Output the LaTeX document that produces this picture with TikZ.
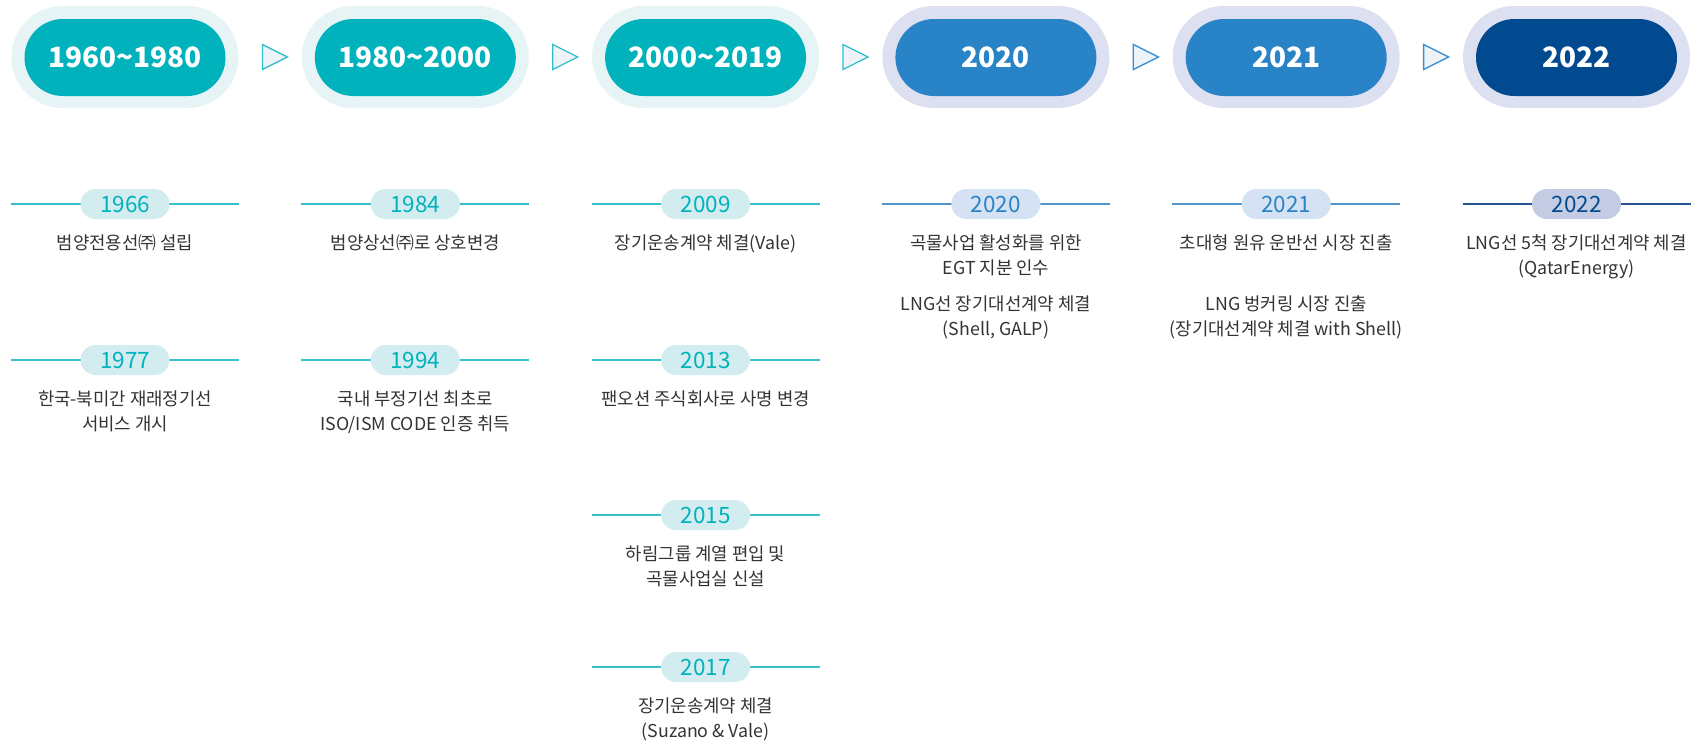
\documentclass[tikz,border=0pt]{standalone}
\usepackage{fontspec}
\setmainfont{Noto Sans CJK KR}
\usetikzlibrary{shapes.geometric,calc}
\definecolor{tealA}{RGB}{0,178,188}
\definecolor{tealHalo}{RGB}{230,244,246}
\definecolor{blueA}{RGB}{41,131,199}
\definecolor{blueHalo}{RGB}{221,224,240}
\definecolor{navyA}{RGB}{1,74,143}
\definecolor{tealLine}{RGB}{56,193,202}
\definecolor{tealPill}{RGB}{210,236,239}
\definecolor{blueLine}{RGB}{80,150,205}
\definecolor{bluePill}{RGB}{212,226,243}
\definecolor{navyLine}{RGB}{36,84,148}
\definecolor{navyPill}{RGB}{196,204,227}
\definecolor{descGray}{RGB}{51,51,51}
\definecolor{triFill}{RGB}{238,243,249}
\definecolor{triTeal}{RGB}{44,192,204}
\definecolor{triBlue}{RGB}{59,142,209}
\newcommand\evyr[5]{%
  \draw[#5line] (#2-114,#3) -- (#2+114,#3);
  \node[ypill,#5pill] (#1) at (#2,#3) {#4};}
\begin{document}
\begin{tikzpicture}[x=1pt,y=-1pt,
  halo/.style={minimum width=227pt, minimum height=102pt, rounded corners=51pt, inner sep=0pt},
  core/.style={minimum width=201pt, minimum height=77pt, rounded corners=38.5pt, inner sep=0pt,
    text=white, font=\fontsize{28}{30}\selectfont\bfseries},
  tri/.style={isosceles triangle, isosceles triangle stretches, minimum width=25pt, minimum height=25pt,
    inner sep=0pt, fill=triFill, line width=1.3pt},
  ypill/.style={minimum width=89pt, minimum height=30pt, rounded corners=15pt, inner sep=0pt,
    font=\fontsize{22.5}{24}\selectfont},
  tealline/.style={draw=tealLine, line width=1.5pt},
  blueline/.style={draw=blueLine, line width=1.5pt},
  navyline/.style={draw=navyLine, line width=1.5pt},
  tealpill/.style={fill=tealPill, text=tealA},
  bluepill/.style={fill=bluePill, text=blueA},
  navypill/.style={fill=navyPill, text=navyA},
  desc/.style={anchor=base, inner sep=0pt, text=descGray, font=\fontsize{17.8}{20}\selectfont}
]
\useasboundingbox (0,0) rectangle (1701,744);
% top pills
\node[halo, fill=tealHalo] (h1) at (125,57) {};
\node[core, fill=tealA] (p1) at (125,57.5) {1960\textasciitilde1980};
\node[halo, fill=tealHalo] (h2) at (415.3,57) {};
\node[core, fill=tealA] (p2) at (415.3,57.5) {1980\textasciitilde2000};
\node[halo, fill=tealHalo] (h3) at (705.6,57) {};
\node[core, fill=tealA] (p3) at (705.6,57.5) {2000\textasciitilde2019};
\node[halo, fill=blueHalo] (h4) at (995.9,57) {};
\node[core, fill=blueA] (p4) at (995.9,57.5) {2020};
\node[halo, fill=blueHalo] (h5) at (1286.2,57) {};
\node[core, fill=blueA] (p5) at (1286.2,57.5) {2021};
\node[halo, fill=blueHalo] (h6) at (1576.5,57) {};
\node[core, fill=navyA] (p6) at (1576.5,57.5) {2022};
% arrows
\node[tri, draw=triTeal] (a1) at ($(h1.east)!0.5!(h2.west)$) {};
\node[tri, draw=triTeal] (a2) at ($(h2.east)!0.5!(h3.west)$) {};
\node[tri, draw=triTeal] (a3) at ($(h3.east)!0.5!(h4.west)$) {};
\node[tri, draw=triBlue] (a4) at ($(h4.east)!0.5!(h5.west)$) {};
\node[tri, draw=triBlue] (a5) at ($(h5.east)!0.5!(h6.west)$) {};
% column 1
\evyr{y1966}{125}{204}{1966}{teal}
\node[desc] (d1966) at (125,249) {범양전용선㈜ 설립};
\evyr{y1977}{125}{360}{1977}{teal}
\node[desc] (d1977a) at (125,405) {한국-북미간 재래정기선};
\node[desc] (d1977b) at (125,430) {서비스 개시};
% column 2
\evyr{y1984}{415.3}{204}{1984}{teal}
\node[desc] (d1984) at (415.3,249) {범양상선㈜로 상호변경};
\evyr{y1994}{415.3}{360}{1994}{teal}
\node[desc] (d1994a) at (415.3,405) {국내 부정기선 최초로};
\node[desc] (d1994b) at (415.3,430) {ISO/ISM CODE 인증 취득};
% column 3
\evyr{y2009}{705.6}{204}{2009}{teal}
\node[desc] (d2009) at (705.6,249) {장기운송계약 체결(Vale)};
\evyr{y2013}{705.6}{360}{2013}{teal}
\node[desc] (d2013) at (705.6,405) {팬오션 주식회사로 사명 변경};
\evyr{y2015}{705.6}{515}{2015}{teal}
\node[desc] (d2015a) at (705.6,560) {하림그룹 계열 편입 및};
\node[desc] (d2015b) at (705.6,585) {곡물사업실 신설};
\evyr{y2017}{705.6}{667}{2017}{teal}
\node[desc] (d2017a) at (705.6,712) {장기운송계약 체결};
\node[desc] (d2017b) at (705.6,737) {(Suzano \& Vale)};
% column 4
\evyr{y2020}{995.9}{204}{2020}{blue}
\node[desc] (d2020a) at (995.9,249) {곡물사업 활성화를 위한};
\node[desc] (d2020b) at (995.9,274) {EGT 지분 인수};
\node[desc] (d2020c) at (995.9,310) {LNG선 장기대선계약 체결};
\node[desc] (d2020d) at (995.9,335) {(Shell, GALP)};
% column 5
\evyr{y2021}{1286.2}{204}{2021}{blue}
\node[desc] (d2021a) at (1286.2,249) {초대형 원유 운반선 시장 진출};
\node[desc] (d2021b) at (1286.2,310) {LNG 벙커링 시장 진출};
\node[desc] (d2021c) at (1286.2,335) {(장기대선계약 체결 with Shell)};
% column 6
\evyr{y2022}{1576.5}{204}{2022}{navy}
\node[desc] (d2022a) at (1576.5,249) {LNG선 5척 장기대선계약 체결};
\node[desc] (d2022b) at (1576.5,274) {(QatarEnergy)};
\end{tikzpicture}
\end{document}
